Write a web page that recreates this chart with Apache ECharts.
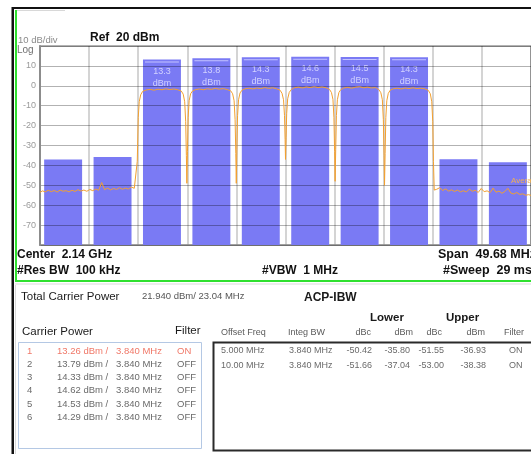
<!DOCTYPE html>
<html>
<head>
<meta charset="utf-8">
<script src="https://cdn.jsdelivr.net/npm/echarts@6/dist/echarts.min.js"></script>
<style>
  html, body { margin: 0; padding: 0; background: #ffffff; }
  #chart { width: 531px; height: 454px; }
</style>
</head>
<body>
<div id="chart"></div>
<script>
// ---- Analyzer settings ----
const REF_LEVEL = 20;          // dBm, top of the screen
const DB_PER_DIV = 10;
const BOTTOM_LEVEL = -80;
const SPAN_MHZ = 49.68;
const INTEG_BW = 3.84;         // MHz, integration bandwidth of every channel

// ---- Carriers (offsets from 2.14 GHz, MHz) ----
const carrierCenters = [-12.5, -7.5, -2.5, 2.5, 7.5, 12.5];
const carrierPower = [13.26, 13.79, 14.33, 14.62, 14.53, 14.29];
const carrierFilter = ['ON', 'OFF', 'OFF', 'OFF', 'OFF', 'OFF'];

// ---- Adjacent channel results ----
const offsetFreqText = ['5.000 MHz', '10.00 MHz'];
const offsetMhz = [5, 10];
const lowerDbc = [-50.42, -51.66];
const lowerDbm = [-35.80, -37.04];
const upperDbc = [-51.55, -53.00];
const upperDbm = [-36.93, -38.38];
const offsetFilter = ['ON', 'ON'];

// ---- y tick labels ----
const yTickLabels = [10, 0, -10, -20, -30, -40, -50, -60, -70];

// ---- Averaged trace: frequency offset (MHz) and level (dBm) ----
const traceFreq = [
  -24.84, -24.6, -24.3, -24.0, -23.7, -23.4, -23.1, -22.8, -22.5, -22.2,
  -21.9, -21.6, -21.3, -21.0, -20.7, -20.4, -20.1, -19.8, -19.5, -19.2,
  -18.9, -18.6, -18.3, -18.0, -17.7, -17.4, -17.1, -16.8, -16.5, -16.2,
  -15.9, -15.6, -15.3, -15.1,
  -15.0, -14.9, -14.8, -14.65, -14.45, -14.1, -13.7, -13.3, -12.9, -12.5,
  -12.1, -11.7, -11.3, -10.9, -10.55, -10.35, -10.2, -10.1, -10.03, -9.98,
  -9.92, -9.85, -9.75, -9.6, -9.4, -9.1, -8.7, -8.3, -7.9, -7.5,
  -7.1, -6.7, -6.3, -5.9, -5.55, -5.35, -5.2, -5.1, -5.03, -4.98,
  -4.92, -4.85, -4.75, -4.6, -4.4, -4.1, -3.7, -3.3, -2.9, -2.5,
  -2.1, -1.7, -1.3, -0.9, -0.55, -0.35, -0.2, -0.1, -0.04, 0.0,
  0.06, 0.12, 0.22, 0.38, 0.6, 0.9, 1.3, 1.7, 2.1, 2.5,
  2.9, 3.3, 3.7, 4.1, 4.45, 4.65, 4.8, 4.9, 4.97, 5.02,
  5.08, 5.15, 5.25, 5.4, 5.6, 5.9, 6.3, 6.7, 7.1, 7.5,
  7.9, 8.3, 8.7, 9.1, 9.45, 9.65, 9.8, 9.9, 9.97, 10.02,
  10.08, 10.15, 10.25, 10.4, 10.6, 10.9, 11.3, 11.7, 12.1, 12.5,
  12.9, 13.3, 13.7, 14.1, 14.45, 14.65, 14.8, 14.9, 14.97, 15.05,
  15.3, 15.6, 15.9, 16.2, 16.5, 16.8, 17.1, 17.4, 17.7, 18.0,
  18.3, 18.6, 18.9, 19.2, 19.5, 19.8, 20.1, 20.4, 20.7, 21.0,
  21.3, 21.6, 21.9, 22.2, 22.5, 22.8, 23.1, 23.4, 23.7, 24.0,
  24.3, 24.6, 24.84
];
const traceLevel = [
  -53.6, -52.8, -53.3, -52.5, -53.2, -52.6, -53.4, -52.4, -53.0, -52.7,
  -53.3, -52.5, -53.1, -52.2, -52.9, -52.4, -53.0, -52.1, -52.7, -51.9,
  -52.5, -48.6, -52.2, -51.4, -52.3, -51.6, -52.1, -51.2, -52.0, -51.4,
  -51.9, -50.9, -51.5, -51.2,
  -38, -16, -8, -4.5, -2.8, -2.1, -1.8, -2.2, -1.7, -2.0,
  -1.5, -1.9, -1.6, -2.0, -2.6, -4.2, -8, -18, -35, -49,
  -33, -16, -7.5, -4.0, -2.6, -1.9, -1.6, -2.0, -1.5, -1.8,
  -1.3, -1.7, -1.4, -1.9, -2.5, -4.0, -7.5, -17, -34, -49,
  -32, -15, -7, -3.6, -2.2, -1.5, -1.2, -1.6, -1.1, -1.4,
  -0.9, -1.3, -1.0, -1.5, -2.2, -3.8, -7, -15, -27, -37,
  -26, -14, -6.5, -3.3, -1.8, -1.0, -0.7, -1.1, -0.6, -0.9,
  -0.5, -0.9, -0.6, -1.0, -1.8, -3.4, -6.8, -16, -33, -48,
  -32, -15, -7, -3.4, -1.9, -1.1, -0.8, -1.2, -0.7, -0.5,
  -1.0, -0.7, -1.1, -0.9, -1.9, -3.5, -7, -17, -35, -50,
  -34, -16, -7.5, -3.8, -2.2, -1.5, -1.2, -1.6, -1.1, -1.4,
  -1.0, -1.4, -1.2, -1.5, -2.3, -4.0, -8, -18, -38, -52.4,
  -52.0, -51.2, -52.6, -51.8, -52.9, -52.3, -53.1, -52.4, -53.3, -52.7,
  -53.4, -51.9, -53.0, -52.5, -53.6, -51.6, -53.2, -52.8, -53.7, -51.4,
  -53.5, -52.9, -54.0, -53.1, -51.5, -53.9, -54.4, -53.6, -54.6, -54.3,
  -55.0, -54.7, -55.1
];

// ---- Build series data ----
const tracePoints = traceFreq.map((f, i) => [f, traceLevel[i]]);
const carrierBands = carrierCenters.map((c, i) => [c, carrierPower[i], 1]);
const adjBands = [];
offsetMhz.forEach((off, i) => {
  adjBands.push([carrierCenters[0] - off, lowerDbm[i], 0]);
  adjBands.push([carrierCenters[carrierCenters.length - 1] + off, upperDbm[i], 0]);
});
const bands = adjBands.concat(carrierBands);

const BAND_COLOR = '#7a7af4';
const FONT = '"Liberation Sans", Arial, sans-serif';

function renderBand(params, api) {
  const fc = api.value(0);
  const lvl = api.value(1);
  const isCarrier = api.value(2) === 1;
  const tl = api.coord([fc - INTEG_BW / 2, lvl]);
  const br = api.coord([fc + INTEG_BW / 2, BOTTOM_LEVEL]);
  const w = br[0] - tl[0];
  const children = [{
    type: 'rect',
    shape: { x: tl[0], y: tl[1], width: w, height: br[1] - tl[1] },
    style: { fill: BAND_COLOR }
  }];
  if (isCarrier) {
    children.push({
      type: 'rect',
      shape: { x: tl[0] + 2, y: tl[1] + 2, width: w - 4, height: 1 },
      style: { fill: '#c4c4ff' }
    });
    children.push({
      type: 'text',
      style: {
        text: lvl.toFixed(1), x: (tl[0] + br[0]) / 2, y: tl[1] + 12,
        textAlign: 'center', textVerticalAlign: 'middle',
        font: '9px ' + FONT, fill: '#d2d2ff'
      }
    });
    children.push({
      type: 'text',
      style: {
        text: 'dBm', x: (tl[0] + br[0]) / 2, y: tl[1] + 24,
        textAlign: 'center', textVerticalAlign: 'middle',
        font: '9px ' + FONT, fill: '#d2d2ff'
      }
    });
  }
  return { type: 'group', children: children };
}

// ---- Text / frame elements around the display ----
function txt(text, x, y, size, color, opts) {
  opts = opts || {};
  return {
    type: 'text', z: 20,
    style: {
      text: text, x: x, y: y,
      font: (opts.bold ? 'bold ' : '') + size + 'px ' + FONT,
      fill: color, textAlign: opts.align || 'left', textVerticalAlign: 'middle'
    }
  };
}
function box(x, y, w, h, fill) {
  return { type: 'rect', z: 20, shape: { x: x, y: y, width: w, height: h }, style: { fill: fill } };
}

const graphics = [
  box(12, 7, 519, 2, '#111111'),
  box(11.5, 7, 2.5, 447, '#111111'),
  box(17, 10, 48, 1, '#d8d8d8'),
  box(15, 10, 2, 272, '#2fe02f'),
  box(15, 280, 516, 2, '#2fe02f'),
  box(15, 283.5, 516, 1, '#dadada'),
  box(15, 285, 1, 169, '#d8d8d8'),

  txt('10 dB/div', 18, 40, 9.5, '#8a8a8a'),
  txt('Ref  20 dBm', 90, 38, 12, '#111111', { bold: true }),
  txt('Log', 17, 50, 10, '#707070'),
  txt('Center  2.14 GHz', 17, 255, 12, '#111111', { bold: true }),
  txt('#Res BW  100 kHz', 17, 271, 12, '#111111', { bold: true }),
  txt('#VBW  1 MHz', 262, 271, 12, '#111111', { bold: true }),
  txt('Span  49.68 MHz', 438, 255, 12.5, '#111111', { bold: true }),
  txt('#Sweep  29 ms', 443, 271, 12.5, '#111111', { bold: true }),
  txt('Average', 511, 181, 8, '#f2b050'),

  txt('Total Carrier Power', 21, 297, 11.5, '#1a1a1a'),
  txt('21.940 dBm/ 23.04 MHz', 142, 296, 9.5, '#555555'),
  txt('ACP-IBW', 304, 298, 12, '#1a1a1a', { bold: true }),
  txt('Lower', 370, 318, 11.5, '#1a1a1a', { bold: true }),
  txt('Upper', 446, 318, 11.5, '#1a1a1a', { bold: true }),
  txt('Carrier Power', 22, 332, 11.5, '#1a1a1a'),
  txt('Filter', 175, 331, 11.5, '#1a1a1a'),

  txt('Offset Freq', 221, 333, 9, '#5a5a5a'),
  txt('Integ BW', 288, 333, 9, '#5a5a5a'),
  txt('dBc', 371, 333, 9, '#5a5a5a', { align: 'right' }),
  txt('dBm', 413, 333, 9, '#5a5a5a', { align: 'right' }),
  txt('dBc', 442, 333, 9, '#5a5a5a', { align: 'right' }),
  txt('dBm', 485, 333, 9, '#5a5a5a', { align: 'right' }),
  txt('Filter', 504, 333, 9, '#5a5a5a'),

  { type: 'rect', z: 19, shape: { x: 18.5, y: 342.5, width: 183, height: 106 },
    style: { fill: '#ffffff', stroke: '#b4c8e4', lineWidth: 1 } },
  { type: 'rect', z: 19, shape: { x: 213.5, y: 342.5, width: 330, height: 108 },
    style: { fill: '#ffffff', stroke: '#2a2a2a', lineWidth: 2 } }
];

const rowY = [351, 364, 377, 390, 404, 417];
carrierPower.forEach((p, i) => {
  const c = i === 0 ? '#f07868' : '#6a6a6a';
  graphics.push(txt(String(i + 1), 27, rowY[i], 9.5, c));
  graphics.push(txt(p.toFixed(2) + ' dBm /', 57, rowY[i], 9.5, c));
  graphics.push(txt(INTEG_BW.toFixed(3) + ' MHz', 116, rowY[i], 9.5, c));
  graphics.push(txt(carrierFilter[i], 177, rowY[i], 9.5, c));
});

const offRowY = [351, 366];
offsetFreqText.forEach((t, i) => {
  const c = '#6a6a6a';
  graphics.push(txt(t, 221, offRowY[i], 9, c));
  graphics.push(txt(INTEG_BW.toFixed(3) + ' MHz', 289, offRowY[i], 9, c));
  graphics.push(txt(lowerDbc[i].toFixed(2), 372, offRowY[i], 9, c, { align: 'right' }));
  graphics.push(txt(lowerDbm[i].toFixed(2), 410, offRowY[i], 9, c, { align: 'right' }));
  graphics.push(txt(upperDbc[i].toFixed(2), 444, offRowY[i], 9, c, { align: 'right' }));
  graphics.push(txt(upperDbm[i].toFixed(2), 486, offRowY[i], 9, c, { align: 'right' }));
  graphics.push(txt(offsetFilter[i], 509, offRowY[i], 9, c));
});

const chart = echarts.init(document.getElementById('chart'), null, { renderer: 'canvas' });
const divMhz = SPAN_MHZ / 10;
chart.setOption({
  animation: false,
  backgroundColor: '#ffffff',
  grid: {
    left: 40, top: 46, right: -5, bottom: 209,
    show: true, borderColor: '#9a9a9a', borderWidth: 1.5, backgroundColor: 'transparent'
  },
  xAxis: {
    type: 'value',
    min: -SPAN_MHZ / 2, max: SPAN_MHZ / 2, interval: divMhz,
    axisLabel: { show: false }, axisTick: { show: false },
    axisLine: { show: true, onZero: false, lineStyle: { color: '#9a9a9a', width: 1.5 } },
    splitLine: { show: true, lineStyle: { color: 'rgba(0,0,0,0.17)', width: 2 } }
  },
  yAxis: {
    type: 'value', z: 3,
    min: BOTTOM_LEVEL, max: REF_LEVEL, interval: DB_PER_DIV,
    axisLine: { show: true, onZero: false, lineStyle: { color: '#8c8c8c', width: 2 } },
    axisTick: { show: false },
    axisLabel: {
      margin: 4, fontSize: 9, color: '#9a9a9a', fontFamily: FONT,
      formatter: v => (yTickLabels.indexOf(v) >= 0 ? String(v) : '')
    },
    splitLine: { show: true, lineStyle: { color: 'rgba(0,0,0,0.3)', width: 1 } }
  },
  series: [
    {
      type: 'custom', z: 2,
      renderItem: renderBand,
      data: bands,
      clip: true
    },
    {
      type: 'line', z: 5,
      data: tracePoints,
      showSymbol: false,
      lineStyle: { color: '#f2a030', width: 1 },
      clip: true
    }
  ],
  graphic: graphics
});
</script>
</body>
</html>
